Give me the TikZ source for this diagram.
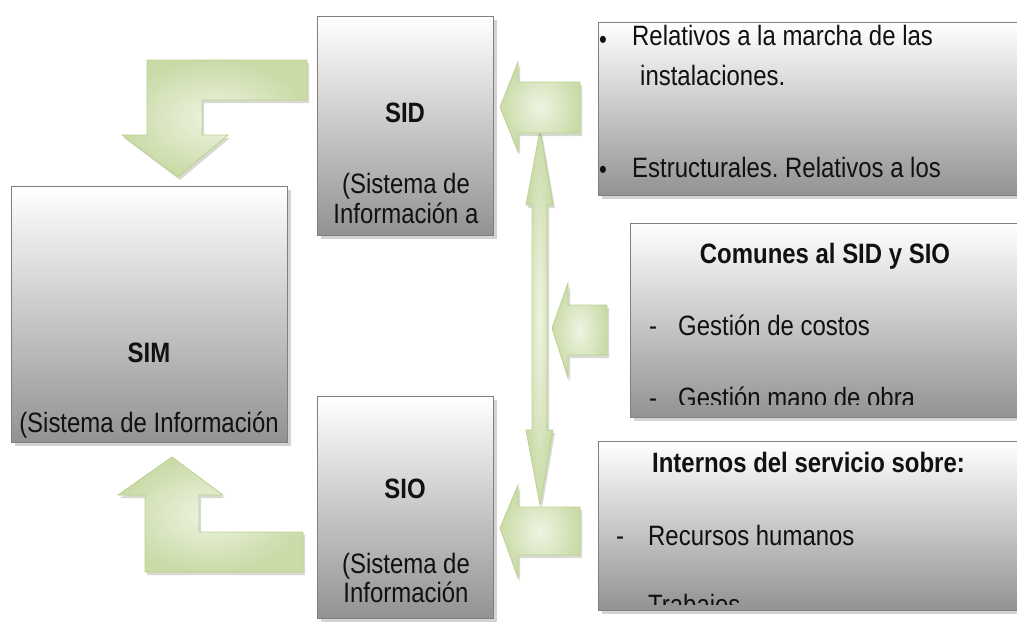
\documentclass[tikz,border=0pt]{standalone}
\usepackage{fontspec}
\setmainfont[FakeStretch=0.855]{Liberation Sans}
\usepackage{tikz}
\usetikzlibrary{shadows}
\frenchspacing

\definecolor{arrowlight}{HTML}{EEF4E2}
\definecolor{arrowdark}{HTML}{CADBA8}
\definecolor{arrowedge}{HTML}{BCD190}
\definecolor{boxedge}{HTML}{7F7F7F}
\definecolor{boxdark}{HTML}{929292}
\definecolor{textcol}{HTML}{111111}
\newcommand{\boxfont}{\fontsize{28pt}{30pt}\selectfont}

\begin{document}
\begin{tikzpicture}[
    x=1pt, y=-1pt,
    infobox/.style={rectangle, draw=boxedge, line width=1.2pt, top color=white, bottom color=boxdark, anchor=north west, inner sep=0pt, drop shadow={shadow xshift=3pt, shadow yshift=-3pt, opacity=0.35}},
    greenarrow/.style={draw=arrowedge, line width=0.8pt, inner color=arrowlight, outer color=arrowdark, drop shadow={shadow xshift=2pt, shadow yshift=-3pt, opacity=0.3, fill=arrowdark!60!black}},
    txt/.style={inner sep=0pt, text=textcol, font=\boxfont, anchor=base},
    txtleft/.style={txt, anchor=base west},
    head/.style={txt, font=\boxfont\bfseries},
    dot/.style={inner sep=0pt, text=textcol, font=\fontsize{26pt}{26pt}\selectfont, anchor=center}
]
\useasboundingbox (0,0) rectangle (1017,621);
\clip (0,0) rectangle (1017,621);

% arrows
\path[greenarrow] (540,130) -- (553,205) -- (547,205) -- (547,430) -- (553,430) -- (540,505) -- (526,430) -- (532,430) -- (532,205) -- (526,205) -- cycle;
\path[greenarrow] (307,60) -- (147,60) -- (147,135) -- (122,135) -- (178,177) -- (228,135) -- (202,135) -- (202,100) -- (307,100) -- cycle;
\path[greenarrow] (303,572) -- (145,572) -- (145,495) -- (118,495) -- (172,457) -- (223,495) -- (199,495) -- (199,532) -- (303,532) -- cycle;
\path[greenarrow] (580,82) -- (518,82) -- (518,62) -- (500,107) -- (518,152) -- (518,133) -- (580,133) -- cycle;
\path[greenarrow] (607,305) -- (568,305) -- (568,283) -- (552,328) -- (568,378) -- (568,355) -- (607,355) -- cycle;
\path[greenarrow] (580,507) -- (518,507) -- (518,485) -- (500,528) -- (518,578) -- (518,555) -- (580,555) -- cycle;

% boxes
\node[infobox, minimum width=276pt, minimum height=256pt] (sim) at (11,186) {};
\node[infobox, minimum width=176pt, minimum height=219pt] (sid) at (317,16) {};
\node[infobox, minimum width=176pt, minimum height=222pt] (sio) at (317,396) {};
\node[infobox, minimum width=430pt, minimum height=173pt] (facts) at (598,22) {};
\node[infobox, minimum width=400pt, minimum height=194pt] (common) at (630,223) {};
\node[infobox, minimum width=430pt, minimum height=169pt] (internal) at (598,441) {};

% texts
\node[head] (simtitle) at (149,362) {SIM};
\node[txt] (simtext) at (149,432) {(Sistema de Información};
\node[head] (sidtitle) at (405,122) {SID};
\node[txt] (sidtext1) at (406,193) {(Sistema de};
\node[txt] (sidtext2) at (406,223) {Información a};
\node[head] (siotitle) at (405,498) {SIO};
\node[txt] (siotext1) at (406,573) {(Sistema de};
\node[txt] (siotext2) at (406,602) {Información};

\node[dot] (bullet1) at (603,42) {•};
\node[txtleft] (fact1) at (632,45) {Relativos a la marcha de las};
\node[txtleft] (fact1b) at (640,85) {instalaciones.};
\node[dot] (bullet2) at (603,172) {•};
\node[txtleft] (fact2) at (632,177) {Estructurales. Relativos a los};

\node[head] (commontitle) at (825,263) {Comunes al SID y SIO};
\node[txt] (dash1) at (653,335) {-};
\node[txtleft] (common1) at (678,335) {Gestión de costos};
\begin{scope}
  \clip (630,223) rectangle (1017,404);
  \node[txt] (dash2) at (653,407) {-};
  \node[txtleft] (common2) at (678,407) {Gestión mano de obra};
\end{scope}

\node[head, anchor=base west] (internaltitle) at (652,472) {Internos del servicio sobre:};
\node[txt] (dash3) at (620,545) {-};
\node[txtleft] (internal1) at (648,545) {Recursos humanos};
\begin{scope}
  \clip (598,441) rectangle (1017,604);
  \node[txtleft] (internal2) at (648,614) {Trabajos};
\end{scope}

\end{tikzpicture}
\end{document}
